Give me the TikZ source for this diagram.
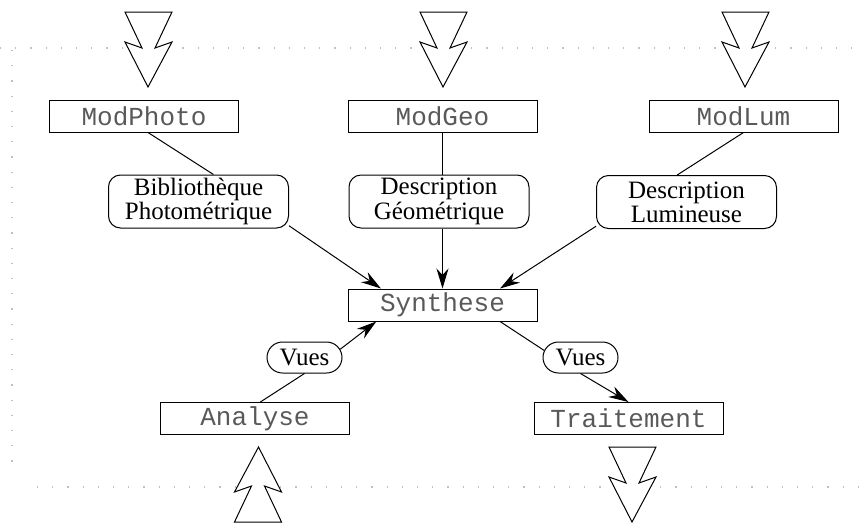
\documentclass[tikz,border=0pt]{standalone}
\usepackage{fontspec}
\setmainfont{Liberation Serif}
\setmonofont{Liberation Mono}
\usetikzlibrary{shapes.misc,arrows.meta}

\tikzset{
  boltarrow/.pic={
    \draw[fill=white,line width=0.5pt,line join=miter] (-23,0) -- (-6,36) -- (-23,30) -- (0,75)
      -- (24,30) -- (7,36) -- (24,0) -- cycle;
  }
}

\begin{document}
\begin{tikzpicture}[x=0.5pt,y=-0.5pt,
  modbox/.style={draw,line width=0.5pt,inner sep=0pt,minimum width=94.5pt,minimum height=16pt,
    text=black!65,font=\fontsize{13}{14}\ttfamily},
  descbox/.style={draw,line width=0.5pt,rounded corners=6pt,inner sep=0pt,minimum width=90pt,
    minimum height=26.5pt,align=center,font=\fontsize{12.5}{10.5}\selectfont},
  vuesbox/.style={draw,line width=0.5pt,rounded rectangle,inner sep=0pt,minimum width=37.5pt,
    minimum height=15.5pt,font=\fontsize{12.5}{14}\selectfont},
  link/.style={line width=0.5pt},
  flow/.style={line width=0.5pt,-{Stealth[length=10pt,width=6pt]}},
  guide/.style={gray!50,line width=0.6pt,dash pattern=on 0.6pt off 7pt}]
\useasboundingbox (0,0) rectangle (863,525);

\draw[guide] (0,48) -- (863,48);
\draw[guide] (37,487) -- (863,487);
\draw[guide] (12,50) -- (12,462);

\pic at (148,12) {boltarrow};
\pic at (443,12) {boltarrow};
\pic at (745,12) {boltarrow};
\pic at (632,447) {boltarrow};
\pic[rotate=180] at (258.5,522) {boltarrow};

\node[modbox] (photo) at (144,116) {ModPhoto};
\node[modbox] (geo) at (442.5,116) {ModGeo};
\node[modbox] (lum) at (743.5,116) {ModLum};

\node[descbox] (biblio) at (198.5,201.5) {Biblioth\`eque\\Photom\'etrique};
\node[descbox] (descgeo) at (439,201.5) {Description\\G\'eom\'etrique};
\node[descbox] (desclum) at (686.5,202) {Description\\Lumineuse};

\node[modbox] (synth) at (442.5,305) {Synthese};

\node[vuesbox] (vuesin) at (304.5,357.5) {Vues};
\node[vuesbox] (vuesout) at (580.5,357.5) {Vues};

\node[modbox] (analyse) at (255,418.5) {Analyse};
\node[modbox] (trait) at (628.5,418.5) {Traitement};

\draw[link] ([xshift=2pt]photo.south) -- (biblio.61);
\draw[link] (geo.south) -- (geo.south |- descgeo.north);
\draw[link] (lum.south) -- (desclum.109);

\draw[flow] (biblio.-15) -- (synth.165);
\draw[flow] (synth.north |- descgeo.south) -- (synth.north);
\draw[flow] (desclum.195) -- (synth.16);

\draw[link] (analyse.72) -- (vuesin.south);
\draw[flow] (vuesin.13) -- (synth.194);
\draw[link] (synth.-16) -- (vuesout.169);
\draw[flow] (vuesout.south) -- (trait.north);
\end{tikzpicture}
\end{document}
